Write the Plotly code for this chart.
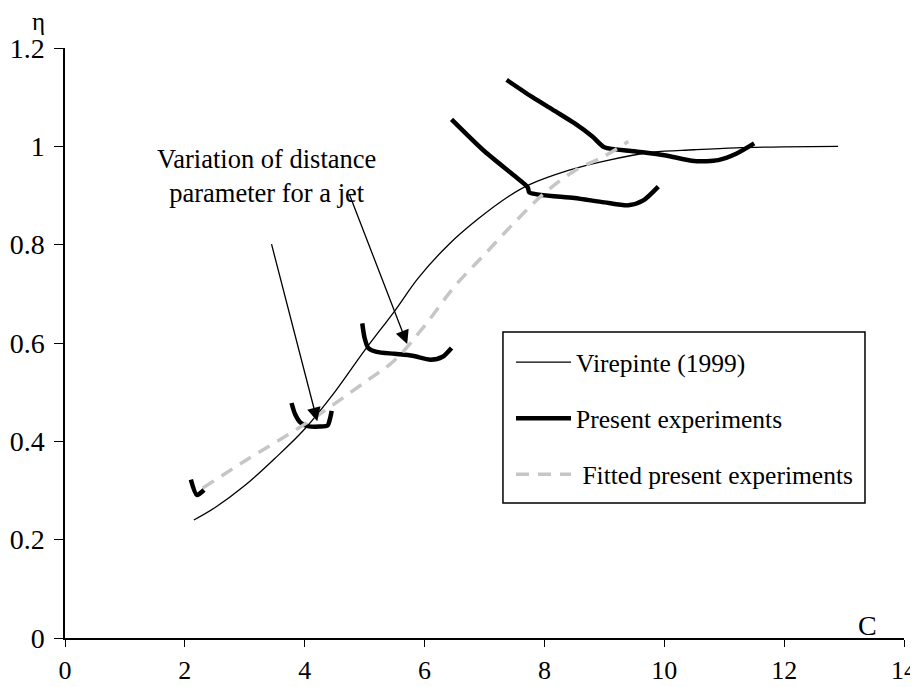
import plotly.graph_objects as go

# Virepinte (1999) correlation
vir_c = [2.15, 2.5, 3.0, 3.5, 4.0, 4.5, 5.0, 5.5, 5.9, 6.4, 6.9, 7.4, 7.75, 8.4, 9.0, 9.8, 10.5, 11.2, 12.0, 12.9]
vir_eta = [0.24, 0.265, 0.31, 0.365, 0.425, 0.50, 0.585, 0.665, 0.733, 0.80, 0.853, 0.898, 0.922, 0.951, 0.970, 0.988, 0.993, 0.997, 0.999, 1.0]

# present experiments, one stroke per jet (None splits the strokes)
exp_c = [2.10, 2.20, 2.32, None,
         3.78, 3.84, 3.93, 4.05, 4.25, 4.38, 4.42, 4.45, None,
         4.96, 5.0, 5.06, 5.2, 5.5, 5.8, 6.1, 6.3, 6.45, None,
         6.45, 7.0, 7.5, 7.72, 7.75, 8.5, 9.0, 9.4, 9.65, 9.9, None,
         7.37, 7.8, 8.2, 8.5, 8.8, 9.0, 9.5, 10.0, 10.5, 10.9, 11.2, 11.5]
exp_eta = [0.322, 0.291, 0.301, None,
           0.478, 0.455, 0.438, 0.431, 0.430, 0.432, 0.445, 0.462, None,
           0.640, 0.610, 0.590, 0.582, 0.578, 0.574, 0.566, 0.572, 0.590, None,
           1.055, 0.990, 0.940, 0.917, 0.906, 0.895, 0.886, 0.880, 0.890, 0.918, None,
           1.135, 1.100, 1.070, 1.047, 1.020, 0.998, 0.990, 0.982, 0.970, 0.972, 0.985, 1.006]

# fitted present experiments
fit_c = [2.3, 3.0, 4.0, 5.0, 5.5, 6.0, 6.5, 7.0, 7.5, 8.0, 8.5, 9.0, 9.4]
fit_eta = [0.305, 0.36, 0.435, 0.52, 0.565, 0.635, 0.715, 0.78, 0.845, 0.905, 0.950, 0.980, 1.01]

x_ticks = [0, 2, 4, 6, 8, 10, 12, 14]
y_ticks = [0, 0.2, 0.4, 0.6, 0.8, 1, 1.2]

font = "Liberation Serif"

fig = go.Figure()
fig.add_trace(go.Scatter(x=vir_c, y=vir_eta, mode="lines", name="Virepinte (1999)",
                         legendgroup="a",
                         line=dict(color="black", width=1.3, shape="spline", smoothing=1)))
fig.add_trace(go.Scatter(x=exp_c, y=exp_eta, mode="lines", name="Present experiments",
                         legendgroup="b", connectgaps=False,
                         line=dict(color="black", width=4.5, shape="spline", smoothing=0.7)))
fig.add_trace(go.Scatter(x=fit_c, y=fit_eta, mode="lines", name="\u00a0Fitted present experiments",
                         legendgroup="c",
                         line=dict(color="#c6c6c6", width=3.5, dash="13px,9px", shape="spline", smoothing=1)))

# arrows
fig.add_annotation(x=4.21, y=0.441, ax=3.44, ay=0.804, xref="x", yref="y", axref="x", ayref="y",
                   text="", showarrow=True, arrowhead=2, arrowsize=2.1, arrowwidth=1.3, arrowcolor="black")
fig.add_annotation(x=5.71, y=0.598, ax=4.74, ay=0.904, xref="x", yref="y", axref="x", ayref="y",
                   text="", showarrow=True, arrowhead=2, arrowsize=2.1, arrowwidth=1.3, arrowcolor="black")
fig.add_annotation(x=3.36, y=0.94, xref="x", yref="y", showarrow=False,
                   text="Variation of distance<br>parameter for a jet",
                   font=dict(family=font, size=26.5, color="black"))

# axis names
fig.add_annotation(x=0, y=1.0, xref="paper", yref="paper", xshift=-27, yshift=27,
                   xanchor="center", yanchor="middle", showarrow=False, text="η",
                   font=dict(family=font, size=25, color="black"))
fig.add_annotation(x=0.957, y=0, xref="paper", yref="paper", yshift=13,
                   xanchor="center", yanchor="middle", showarrow=False, text="C",
                   font=dict(family=font, size=28, color="black"))

# legend frame
fig.add_shape(type="rect", xref="paper", yref="paper", x0=0.522, x1=0.9535, y0=0.2288, y1=0.5186,
              line=dict(color="black", width=1.5), fillcolor="rgba(0,0,0,0)")

fig.update_xaxes(range=[0, 14], tickvals=x_ticks, ticks="outside", ticklen=7, tickwidth=1,
                 tickcolor="black", showline=True, linecolor="black", linewidth=2,
                 showgrid=False, zeroline=False, ticklabelstandoff=1, ticklabeloverflow="allow",
                 tickfont=dict(family=font, size=26, color="black"))
fig.update_yaxes(range=[0, 1.2], tickvals=y_ticks, ticks="outside", ticklen=9, tickwidth=1,
                 tickcolor="black", showline=True, linecolor="black", linewidth=1.5,
                 showgrid=False, zeroline=False, ticklabelstandoff=4,
                 tickfont=dict(family=font, size=28, color="black"))

# page body adds 8px around the figure
fig.update_layout(
    width=910, height=679,
    margin=dict(l=57, r=14, t=40, b=49, autoexpand=False),
    plot_bgcolor="white", paper_bgcolor="white",
    font=dict(family=font, color="black"),
    showlegend=True,
    legend=dict(x=0.5316, y=0.5068, xanchor="left", yanchor="top",
                borderwidth=0, bgcolor="rgba(0,0,0,0)",
                tracegroupgap=20, traceorder="grouped", itemwidth=55,
                font=dict(family=font, size=25.5, color="black")),
)

fig.write_html("out.html")
